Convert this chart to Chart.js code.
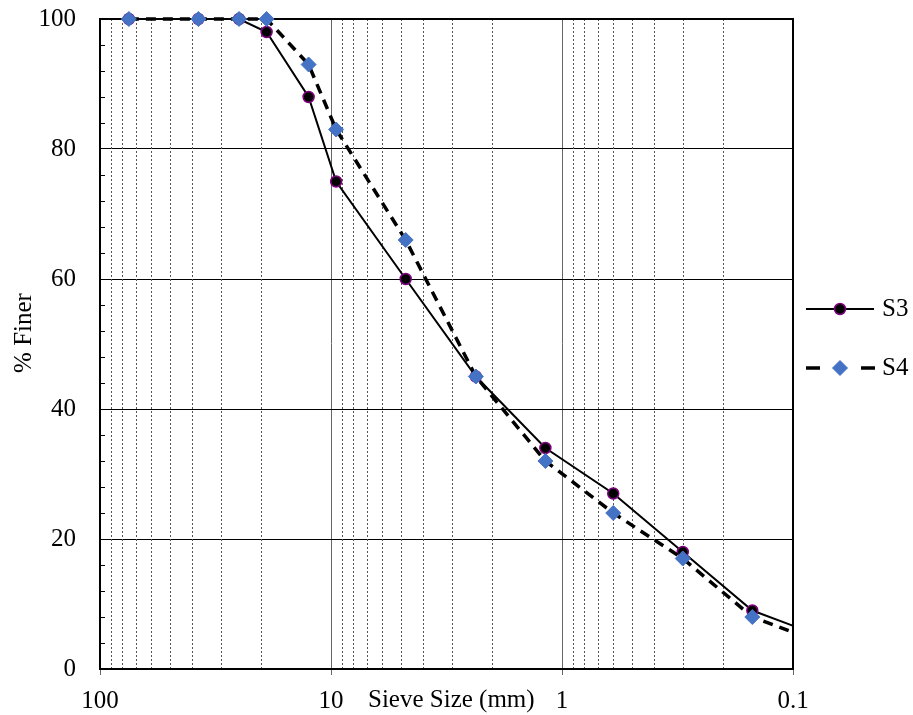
<!DOCTYPE html>
<html>
<head>
<meta charset="utf-8">
<script src="https://cdn.jsdelivr.net/npm/chart.js@4.4.0/dist/chart.umd.min.js"></script>
<style>
  body { margin: 0; background: #fff; }
</style>
</head>
<body>
<canvas id="graficoPeneira" width="913" height="715"></canvas>
<script>
// dados
const sieveSizes = [75, 37.5, 25, 19, 12.5, 9.5, 4.75, 2.36, 1.18, 0.6, 0.3, 0.15, 0.075];
const finerS3 = [100, 100, 100, 98, 88, 75, 60, 45, 34, 27, 18, 9, 5];
const finerS4 = [100, 100, 100, 100, 93, 83, 66, 45, 32, 24, 17, 8, 4];
const seriesNames = ['S3', 'S4'];

const xMajorTicks = [100, 10, 1, 0.1];
const xTickLabels = ['100', '10', '1', '0.1'];
const xMinorTicks = [90, 80, 70, 60, 50, 40, 30, 20, 9, 8, 7, 6, 5, 4, 3, 2, 0.9, 0.8, 0.7, 0.6, 0.5, 0.4, 0.3, 0.2];
const yMinorTicks = [4, 8, 12, 16, 24, 28, 32, 36, 44, 48, 52, 56, 64, 68, 72, 76, 84, 88, 92, 96];

const fonte = '"Liberation Serif", "Times New Roman", serif';

const toPoints = (vals) => sieveSizes.map((s, i) => ({ x: s, y: vals[i] }));

const extras = {
  id: 'extras',
  beforeDatasetsDraw(chart) {
    const { ctx, chartArea: a, scales: { x, y } } = chart;
    ctx.save();
    // linhas pontilhadas menores
    ctx.strokeStyle = '#555';
    ctx.lineWidth = 1;
    ctx.setLineDash([2, 2]);
    xMinorTicks.forEach(v => {
      const px = Math.round(x.getPixelForValue(v)) + 0.5;
      ctx.beginPath();
      ctx.moveTo(px, a.top);
      ctx.lineTo(px, a.bottom);
      ctx.stroke();
    });
    ctx.setLineDash([]);
    // ticks menores do eixo y (para dentro)
    ctx.strokeStyle = '#000';
    yMinorTicks.forEach(v => {
      const py = Math.round(y.getPixelForValue(v)) + 0.5;
      ctx.beginPath();
      ctx.moveTo(a.left, py);
      ctx.lineTo(a.left + 5, py);
      ctx.stroke();
    });
    // moldura
    ctx.lineWidth = 2;
    ctx.strokeRect(a.left, a.top, a.right - a.left, a.bottom - a.top);
    ctx.restore();
  },
  afterDraw(chart) {
    const { ctx } = chart;
    ctx.save();
    ctx.fillStyle = '#000';
    ctx.font = '25px ' + fonte;
    ctx.textBaseline = 'middle';

    // titulo eixo x (ao lado dos ticks)
    ctx.textAlign = 'left';
    ctx.fillText('Sieve Size (mm)', 368, 700);

    // titulo eixo y
    ctx.save();
    ctx.translate(24, 333);
    ctx.rotate(-Math.PI / 2);
    ctx.textAlign = 'center';
    ctx.fillText('% Finer', 0, 0);
    ctx.restore();

    // legenda
    const linhas = [309, 368];
    chart.data.datasets.forEach((ds, i) => {
      const ly = linhas[i];
      ctx.strokeStyle = ds.borderColor;
      ctx.lineWidth = ds.borderWidth;
      if (ds.borderDash) {
        ctx.beginPath();
        ctx.moveTo(806, ly); ctx.lineTo(820, ly);
        ctx.moveTo(861, ly); ctx.lineTo(875, ly);
        ctx.stroke();
      } else {
        ctx.beginPath();
        ctx.moveTo(806, ly); ctx.lineTo(874, ly);
        ctx.stroke();
      }
      ctx.fillStyle = ds.pointBackgroundColor;
      ctx.strokeStyle = ds.pointBorderColor;
      ctx.lineWidth = ds.pointBorderWidth;
      ctx.beginPath();
      if (ds.pointStyle === 'rectRot') {
        const r = ds.pointRadius;
        ctx.moveTo(840, ly - r);
        ctx.lineTo(840 + r, ly);
        ctx.lineTo(840, ly + r);
        ctx.lineTo(840 - r, ly);
        ctx.closePath();
      } else {
        ctx.arc(840, ly, ds.pointRadius, 0, Math.PI * 2);
      }
      ctx.fill();
      ctx.stroke();
      ctx.fillStyle = '#000';
      ctx.textAlign = 'left';
      ctx.fillText(ds.label, 882, ly);
    });
    ctx.restore();
  }
};

// corta so na direita (ponto 0.075 fica fora), marcadores do topo ficam inteiros
const recorte = { left: 10, top: 12, right: 0, bottom: 10 };

const ctx = document.getElementById('graficoPeneira').getContext('2d');
const chartPeneira = new Chart(ctx, {
  type: 'line',
  data: {
    datasets: [{
      label: seriesNames[0],
      data: toPoints(finerS3),
      borderColor: '#000',
      borderWidth: 2,
      pointStyle: 'circle',
      pointRadius: 5.5,
      pointBackgroundColor: '#000',
      pointBorderColor: '#800080',
      pointBorderWidth: 1.5,
      tension: 0,
      clip: recorte,
      order: 1
    }, {
      label: seriesNames[1],
      data: toPoints(finerS4),
      borderColor: '#000',
      borderWidth: 3.5,
      borderDash: [10, 7],
      pointStyle: 'rectRot',
      pointRadius: 7.5,
      pointBackgroundColor: '#4472C4',
      pointBorderColor: '#4472C4',
      pointBorderWidth: 1,
      tension: 0,
      clip: recorte,
      order: 0
    }]
  },
  options: {
    responsive: false,
    animation: false,
    devicePixelRatio: 1,
    layout: { padding: { top: 19, right: 120, bottom: 0, left: 0 } },
    plugins: {
      legend: { display: false },
      tooltip: { enabled: false }
    },
    scales: {
      x: {
        type: 'logarithmic',
        reverse: true,
        min: 0.1,
        max: 100,
        afterBuildTicks: (scale) => {
          scale.ticks = [...xMajorTicks, ...xMinorTicks].sort((a, b) => b - a).map(v => ({ value: v }));
        },
        afterFit: (scale) => {
          scale.height = 46;
          scale.paddingLeft = 0;
          scale.paddingRight = 0;
        },
        ticks: {
          autoSkip: false,
          maxRotation: 0,
          minRotation: 0,
          padding: 11,
          color: '#000',
          font: { family: fonte, size: 25 },
          callback: (v) => {
            const i = xMajorTicks.indexOf(v);
            return i >= 0 ? xTickLabels[i] : '';
          }
        },
        grid: {
          color: (c) => xMajorTicks.includes(c.tick && c.tick.value) ? '#666' : 'rgba(0,0,0,0)',
          tickColor: (c) => xMajorTicks.includes(c.tick && c.tick.value) ? '#666' : 'rgba(0,0,0,0)',
          lineWidth: 1,
          tickLength: 6
        },
        border: { display: true, color: '#000', width: 2 }
      },
      y: {
        min: 0,
        max: 100,
        afterFit: (scale) => {
          scale.width = 100;
          scale.paddingTop = 0;
          scale.paddingBottom = 0;
        },
        ticks: {
          stepSize: 20,
          padding: 24,
          color: '#000',
          font: { family: fonte, size: 25 }
        },
        grid: { color: '#000', lineWidth: 1, drawTicks: false },
        border: { display: true, color: '#000', width: 2 }
      }
    }
  },
  plugins: [extras]
});
</script>
</body>
</html>
